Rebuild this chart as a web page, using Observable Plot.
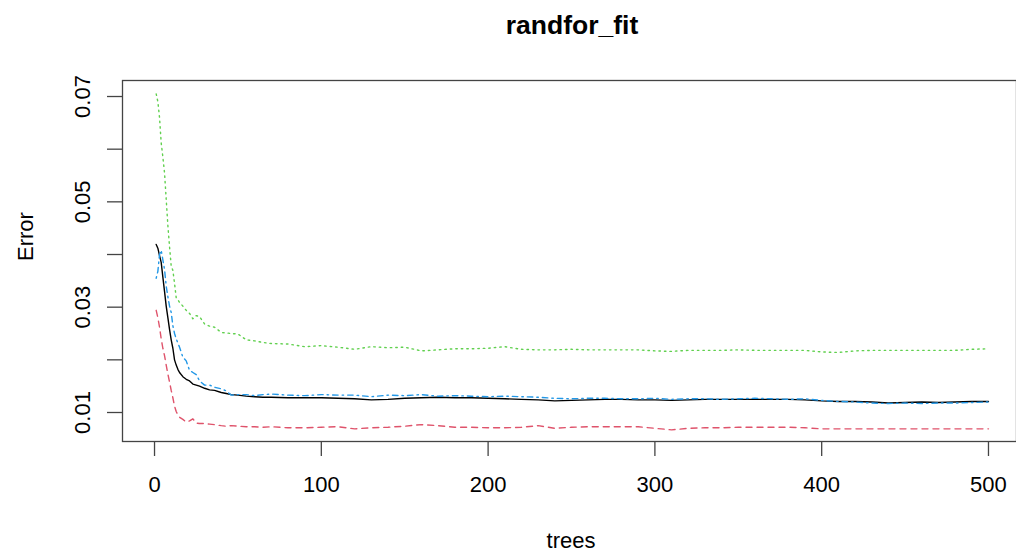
<!DOCTYPE html>
<html><head><meta charset="utf-8">
<script src="https://cdn.jsdelivr.net/npm/d3@7"></script>
<script src="https://cdn.jsdelivr.net/npm/@observablehq/plot@0.6"></script>
<style>body{margin:0;background:#fff;} svg{display:block}</style>
</head><body><div id="chart"></div>
<script>
const title = "randfor_fit";
const xLabel = "trees";
const yLabel = "Error";

const trees = [1,2,3,4,5,6,7,8,9,10,11,12,13,14,15,17,19,21,23,25,27,30,33,36,40,43,46,50,55,60,65,70,80,90,100,110,120,130,140,150,160,170,180,190,200,210,220,230,240,250,260,270,280,290,300,310,320,330,340,350,360,370,380,390,400,410,420,430,440,450,460,470,480,490,500];

// OOB (black, solid)
const oob = [0.0419,0.0412,0.0398,0.0385,0.0357,0.0330,0.0302,0.0280,0.0258,0.0238,0.0222,0.0200,0.0190,0.0182,0.0176,0.0168,0.0163,0.0160,0.0154,0.0152,0.0150,0.0146,0.0143,0.0142,0.0138,0.0136,0.0134,0.0133,0.0131,0.0130,0.0129,0.0129,0.0128,0.0128,0.0128,0.0127,0.0126,0.0124,0.0125,0.0127,0.0128,0.0129,0.0128,0.0128,0.0127,0.0126,0.0125,0.0124,0.0122,0.0123,0.0124,0.0125,0.0125,0.0124,0.0124,0.0123,0.0124,0.0125,0.0125,0.0125,0.0125,0.0125,0.0125,0.0124,0.0122,0.0121,0.0121,0.0120,0.0118,0.0119,0.0120,0.0119,0.0120,0.0121,0.0121];
// class 1 (red, dashed)
const class1 = [0.0294,0.0280,0.0262,0.0240,0.0222,0.0208,0.0190,0.0173,0.0158,0.0142,0.0128,0.0112,0.0102,0.0095,0.0091,0.0087,0.0082,0.0084,0.0088,0.0080,0.0079,0.0079,0.0078,0.0077,0.0075,0.0074,0.0075,0.0074,0.0073,0.0073,0.0072,0.0073,0.0071,0.0071,0.0072,0.0073,0.0069,0.0071,0.0072,0.0074,0.0077,0.0075,0.0072,0.0072,0.0071,0.0071,0.0072,0.0075,0.0070,0.0072,0.0073,0.0073,0.0073,0.0073,0.0070,0.0067,0.0070,0.0071,0.0071,0.0072,0.0072,0.0072,0.0072,0.0071,0.0069,0.0069,0.0069,0.0069,0.0069,0.0069,0.0069,0.0069,0.0069,0.0069,0.0069];
// class 2 (green, dotted)
const class2 = [0.0705,0.0690,0.0660,0.0612,0.0585,0.0555,0.0505,0.0455,0.0415,0.0378,0.0370,0.0345,0.0318,0.0314,0.0309,0.0302,0.0294,0.0288,0.0278,0.0284,0.0282,0.0268,0.0264,0.0262,0.0252,0.0251,0.0250,0.0249,0.0238,0.0236,0.0233,0.0231,0.0230,0.0225,0.0227,0.0224,0.0220,0.0225,0.0223,0.0224,0.0217,0.0219,0.0221,0.0221,0.0222,0.0225,0.0220,0.0219,0.0219,0.0220,0.0219,0.0219,0.0219,0.0219,0.0217,0.0216,0.0218,0.0218,0.0218,0.0219,0.0218,0.0218,0.0218,0.0218,0.0215,0.0214,0.0217,0.0218,0.0218,0.0218,0.0218,0.0218,0.0218,0.0220,0.0221];
// class 3 (blue, dot-dash)
const class3 = [0.0355,0.0368,0.0400,0.0408,0.0390,0.0372,0.0340,0.0320,0.0302,0.0290,0.0265,0.0250,0.0240,0.0232,0.0224,0.0205,0.0198,0.0180,0.0176,0.0172,0.0160,0.0152,0.0152,0.0148,0.0145,0.0141,0.0133,0.0134,0.0134,0.0132,0.0134,0.0135,0.0133,0.0132,0.0134,0.0133,0.0133,0.0130,0.0133,0.0132,0.0134,0.0131,0.0132,0.0131,0.0130,0.0131,0.0130,0.0129,0.0127,0.0126,0.0127,0.0127,0.0126,0.0126,0.0127,0.0125,0.0126,0.0126,0.0125,0.0126,0.0127,0.0126,0.0125,0.0126,0.0123,0.0121,0.0120,0.0118,0.0117,0.0118,0.0117,0.0118,0.0118,0.0119,0.0120];

const xTicks = [0,100,200,300,400,500];
const yTicks = [0.01,0.02,0.03,0.04,0.05,0.06,0.07];
const yTickLabels = ["0.01","","0.03","","0.05","","0.07"];

const rows = (vals) => trees.map((t, i) => ({tree: t, err: vals[i]}));
const font = "Liberation Sans, Arial, Helvetica, sans-serif";
const axisColor = "#444";

const chart = Plot.plot({
  width: 1016,
  height: 553,
  marginLeft: 122,
  marginRight: 0,
  marginTop: 80,
  marginBottom: 112,
  style: {fontFamily: font, background: "white", color: "black", overflow: "visible"},
  x: {domain: [-19.2, 516.8]},
  y: {domain: [0.004494, 0.07304]},
  marks: [
    Plot.line(rows(oob), {x: "tree", y: "err", stroke: "black", strokeWidth: 1.4}),
    Plot.line(rows(class1), {x: "tree", y: "err", stroke: "#DF536B", strokeWidth: 1.4, strokeDasharray: "6,5"}),
    Plot.line(rows(class2), {x: "tree", y: "err", stroke: "#61D04F", strokeWidth: 1.4, strokeDasharray: "1.5,4"}),
    Plot.line(rows(class3), {x: "tree", y: "err", stroke: "#2297E6", strokeWidth: 1.4, strokeDasharray: "1.5,4,5.5,4"}),
    Plot.frame({stroke: axisColor, strokeWidth: 1.3}),
    Plot.axisX({ticks: xTicks, tickSize: 15, tickPadding: 20, fontSize: 22, stroke: axisColor, strokeWidth: 1.3, label: null, tickFormat: d => String(d)}),
    Plot.axisY({ticks: yTicks, tickSize: 15, tickPadding: 17.5, tickRotate: -90, fontSize: 22, stroke: axisColor, strokeWidth: 1.3, label: null,
      tickFormat: d => yTickLabels[yTicks.findIndex(v => Math.abs(v - d) < 1e-9)]}),
    Plot.text([title], {frameAnchor: "top", dx: 2.5, dy: -47, lineAnchor: "bottom", fontSize: 26.5, fontWeight: "bold", fill: "black"}),
    Plot.text([xLabel], {frameAnchor: "bottom", dx: 1.5, dy: 106, lineAnchor: "bottom", fontSize: 22, fill: "black"}),
    Plot.text([yLabel], {frameAnchor: "left", dx: -90, rotate: -90, lineAnchor: "bottom", fontSize: 22, fill: "black"})
  ]
});
document.getElementById("chart").appendChild(chart);
</script>
</body></html>
